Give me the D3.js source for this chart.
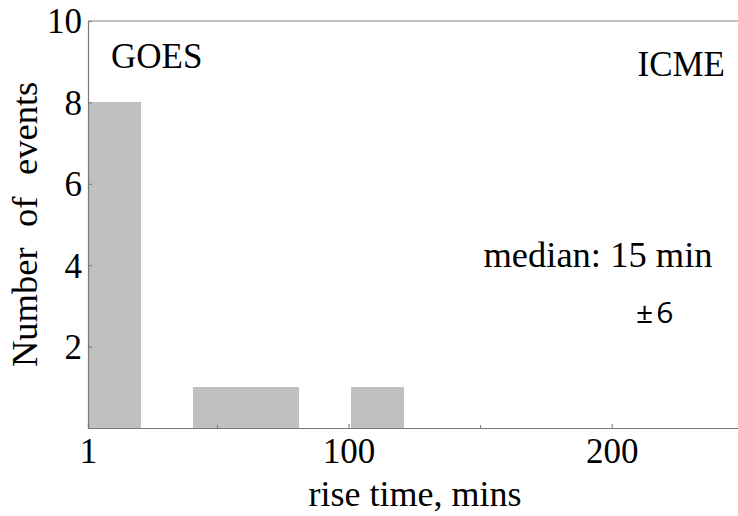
<!DOCTYPE html>
<html>
<head>
<meta charset="utf-8">
<script src="https://cdn.jsdelivr.net/npm/d3@7"></script>
<style>
  body { margin: 0; background: #fff; }
  text { font-family: "Liberation Serif", "DejaVu Serif", serif; fill: #000; }
</style>
</head>
<body>
<svg></svg>
<script>
// размеры окна
const width = 738;
const height = 516;

// данные гистограммы: границы корзин и число событий
const binStart = [1, 41, 61, 101];
const binEnd = [21, 61, 81, 121];
const counts = [8, 1, 1, 1];

const xTicks = [1, 100, 200];
const xMinor = [50, 150];
const yTicks = [2, 4, 6, 8, 10];

const margin = {left: 88, right: 0, top: 21, bottom: 88};

let svg = d3.select("svg")
    .attr("width", width)
    .attr("height", height);

let x = d3.scaleLinear()
    .domain([1, 248])
    .range([margin.left, width - margin.right]);

let y = d3.scaleLinear()
    .domain([0, 10])
    .range([height - margin.bottom, margin.top]);

let bins = counts.map((c, i) => ({x0: binStart[i], x1: binEnd[i], n: c}));

// столбцы
svg.append("g")
    .attr("shape-rendering", "crispEdges")
    .selectAll("rect")
    .data(bins)
    .join("rect")
    .attr("x", d => x(d.x0))
    .attr("y", d => y(d.n))
    .attr("width", d => x(d.x1) - x(d.x0))
    .attr("height", d => y(0) - y(d.n))
    .style("fill", "#c0c0c0");

// оси
let xAxis = d3.axisBottom(x)
    .tickValues(xTicks)
    .tickSize(-4)
    .tickPadding(10)
    .tickFormat(d3.format("d"));

let gx = svg.append("g")
    .attr("transform", `translate(0, ${y(0)})`)
    .call(xAxis);

svg.append("g")
    .attr("transform", `translate(0, ${y(0)})`)
    .call(d3.axisBottom(x).tickValues(xMinor).tickSize(-3).tickFormat(""))
    .call(g => g.select(".domain").remove())
    .selectAll("line").style("stroke", "#777");

let yAxis = d3.axisLeft(y)
    .tickValues(yTicks)
    .tickSize(-4)
    .tickPadding(6);

let gy = svg.append("g")
    .attr("transform", `translate(${x(1)}, 0)`)
    .call(yAxis);

[gx, gy].forEach(g => {
    g.select(".domain").style("stroke", "#777").style("stroke-width", 1.2);
    g.selectAll(".tick line").style("stroke", "#777");
    g.selectAll(".tick text")
        .style("font-family", "'Liberation Serif', serif")
        .style("font-size", "35px")
        .attr("fill", "#000");
});
gx.selectAll(".tick text").attr("dy", "0.71em");
gy.selectAll(".tick text").attr("dy", "0.34em");

// верхняя рамка
svg.append("line")
    .attr("x1", x(1)).attr("x2", width)
    .attr("y1", y(10)).attr("y2", y(10))
    .style("stroke", "#888")
    .style("stroke-width", 1.2);

// подписи
svg.append("text")
    .attr("x", 415).attr("y", 506)
    .attr("text-anchor", "middle")
    .style("font-size", "36px")
    .text("rise time, mins");

// подпись оси y: слова с широкими пробелами
let ylab = svg.append("text")
    .attr("transform", "translate(37, 0) rotate(-90)")
    .style("font-size", "36.5px");
ylab.append("tspan").attr("x", -367).text("Number");
ylab.append("tspan").attr("x", -227).text("of");
ylab.append("tspan").attr("x", -175).text("events");

svg.append("text")
    .attr("x", 111).attr("y", 68)
    .style("font-size", "35px")
    .text("GOES");

svg.append("text")
    .attr("x", 725).attr("y", 76)
    .attr("text-anchor", "end")
    .style("font-size", "35px")
    .text("ICME");

svg.append("text")
    .attr("x", 598).attr("y", 267)
    .attr("text-anchor", "middle")
    .style("font-size", "36.5px")
    .text("median: 15 min");

let pm = svg.append("text")
    .attr("x", 636).attr("y", 323)
    .style("font-family", "'Open Sans', sans-serif")
    .style("font-size", "30px");
pm.append("tspan").text("±");
pm.append("tspan").attr("dx", 3).text("6");
</script>
</body>
</html>
